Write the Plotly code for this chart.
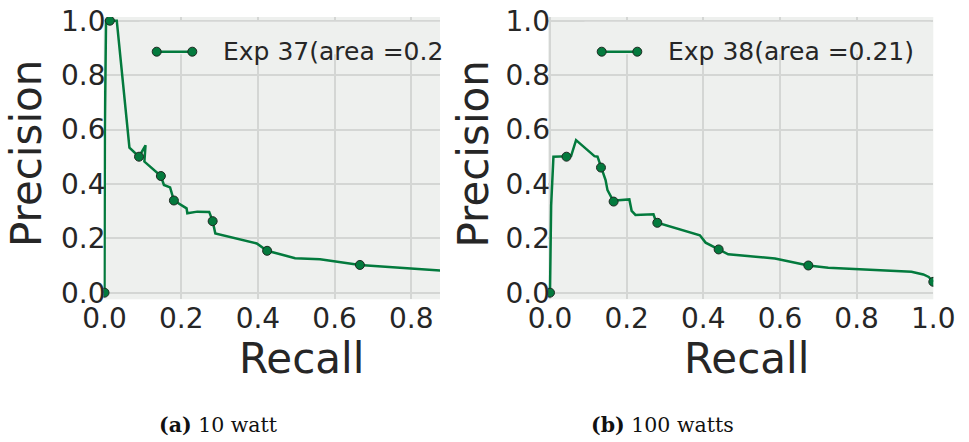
import plotly.graph_objects as go

# Precision/recall curve, Exp 37 (10 watt)
recall_37 = [0.0, 0.001, 0.004, 0.014, 0.032, 0.065, 0.090, 0.107, 0.104, 0.147,
             0.155, 0.171, 0.181, 0.214, 0.216, 0.242, 0.273, 0.282, 0.289, 0.397,
             0.424, 0.497, 0.562, 0.666, 0.880]
precision_37 = [0.0, 0.60, 1.0, 1.0, 1.0, 0.533, 0.500, 0.542, 0.482, 0.429,
                0.396, 0.387, 0.339, 0.310, 0.292, 0.298, 0.297, 0.263, 0.218, 0.181,
                0.154, 0.127, 0.123, 0.102, 0.081]
marked_37 = [0, 3, 6, 9, 12, 17, 20, 23]

# Precision/recall curve, Exp 38 (100 watts)
recall_38 = [0.0, 0.001, 0.003, 0.009, 0.043, 0.055, 0.068, 0.116, 0.124, 0.133,
             0.145, 0.150, 0.166, 0.178, 0.207, 0.213, 0.223, 0.270, 0.274, 0.280,
             0.391, 0.406, 0.440, 0.465, 0.587, 0.630, 0.674, 0.726, 0.943, 0.974,
             0.988, 1.0]
precision_38 = [0.0, 0.15, 0.32, 0.50, 0.50, 0.502, 0.561, 0.502, 0.500, 0.460,
                0.414, 0.377, 0.335, 0.340, 0.343, 0.301, 0.286, 0.288, 0.272, 0.257,
                0.211, 0.184, 0.159, 0.141, 0.126, 0.112, 0.100, 0.092, 0.077, 0.067,
                0.058, 0.040]
marked_38 = [0, 4, 9, 12, 19, 22, 26, 31]

legend_37 = "Exp 37(area =0.2"
legend_38 = "Exp 38(area =0.21)"
captions = ["<b>(a)</b> 10 watt", "<b>(b)</b> 100 watts"]

W, H = 969, 442
GREEN = "#037a3d"
EDGE = "#1e2a22"
BG = "#eef0ee"
GRID = "#d4d6d4"
TXT = "#262626"
SANS = "DejaVu Sans"


def px_x(p):
    return p / W


def px_y(p):
    return 1 - p / H


def marker_sizes(n, marked):
    return [9 if i in marked else 0 for i in range(n)]


fig = go.Figure()

for rec, prec, marked, xa, ya in [
    (recall_37, precision_37, marked_37, "x", "y"),
    (recall_38, precision_38, marked_38, "x2", "y2"),
]:
    fig.add_trace(go.Scatter(
        x=rec, y=prec, xaxis=xa, yaxis=ya, mode="lines+markers",
        line=dict(color=GREEN, width=2.5),
        marker=dict(size=marker_sizes(len(rec), marked), color=GREEN,
                    opacity=1, line=dict(color=EDGE, width=1)),
        cliponaxis=True, showlegend=False, hoverinfo="skip",
    ))

ydom = [px_y(299.3), px_y(17)]
yrange = [-0.0243, 1.0136]
axis_common = dict(
    showgrid=True, gridcolor=GRID, gridwidth=1.5, zeroline=False,
    showline=False, ticks="", tickformat=".1f", dtick=0.2, tick0=0,
    automargin=False,
    tickfont=dict(family=SANS, size=28, color=TXT),
)

fig.update_layout(
    width=W, height=H, margin=dict(l=0, r=0, t=0, b=0, autoexpand=False),
    paper_bgcolor="white", plot_bgcolor=BG, showlegend=False,
    xaxis=dict(domain=[px_x(103.5), px_x(440)], range=[-0.0026, 0.8748],
               anchor="y", **axis_common),
    yaxis=dict(domain=ydom, range=yrange, anchor="x", ticklabelstandoff=-3,
               **axis_common),
    xaxis2=dict(domain=[px_x(548), px_x(933.3)], range=[-0.0052, 1.0],
                anchor="y2", **axis_common),
    yaxis2=dict(domain=ydom, range=yrange, anchor="x2", ticklabelstandoff=-3,
                **axis_common),
)

shapes = []
annotations = []

# legend boxes (axes-coloured face hiding the grid) with a two-point sample
for xa, ya, box_x0, box_x1, line_px, text_px, label in [
    ("x", "y", 0.107, 1.0, (156.7, 192.3), 220.7, legend_37),
    ("x2", "y2", 0.0946, 0.9935, (601.7, 637.3), 665.7, legend_38),
]:
    shapes.append(dict(type="rect", xref=f"{xa} domain", yref=f"{ya} domain",
                       x0=box_x0, x1=box_x1, y0=0.868, y1=0.983,
                       fillcolor=BG, line=dict(width=0), layer="above"))
    ly = px_y(51.7)
    shapes.append(dict(type="line", xref="paper", yref="paper",
                       x0=px_x(line_px[0]), x1=px_x(line_px[1]), y0=ly, y1=ly,
                       line=dict(color=GREEN, width=2.5), layer="above"))
    for lx in line_px:
        shapes.append(dict(type="circle", xref="paper", yref="paper",
                           xsizemode="pixel", ysizemode="pixel",
                           xanchor=px_x(lx), yanchor=ly,
                           x0=-4.5, x1=4.5, y0=-4.5, y1=4.5,
                           fillcolor=GREEN, line=dict(color=EDGE, width=1),
                           layer="above"))
    annotations.append(dict(text=label, xref="paper", yref="paper",
                            x=px_x(text_px), y=ly, xanchor="left",
                            yanchor="middle", showarrow=False,
                            font=dict(family=SANS, size=25, color=TXT)))

# axis titles
for cx, cy in [(301, 358), (746, 358)]:
    annotations.append(dict(text="Recall", xref="paper", yref="paper",
                            x=px_x(cx), y=px_y(cy), xanchor="center",
                            yanchor="middle", showarrow=False,
                            font=dict(family=SANS, size=42, color=TXT)))
for cx in (26, 472.5):
    annotations.append(dict(text="Precision", xref="paper", yref="paper",
                            x=px_x(cx), y=px_y(154), xanchor="center",
                            yanchor="middle", showarrow=False, textangle=-90,
                            font=dict(family=SANS, size=42, color=TXT)))

# sub-figure captions
for cx, text in [(156.7, captions[0]), (589, captions[1])]:
    annotations.append(dict(text=text, xref="paper", yref="paper",
                            x=px_x(cx), y=px_y(425), xanchor="left",
                            yanchor="middle", showarrow=False,
                            font=dict(family="DejaVu Serif", size=20.5,
                                      color="#111111")))

fig.update_layout(shapes=shapes, annotations=annotations)
fig.write_html("out.html")
